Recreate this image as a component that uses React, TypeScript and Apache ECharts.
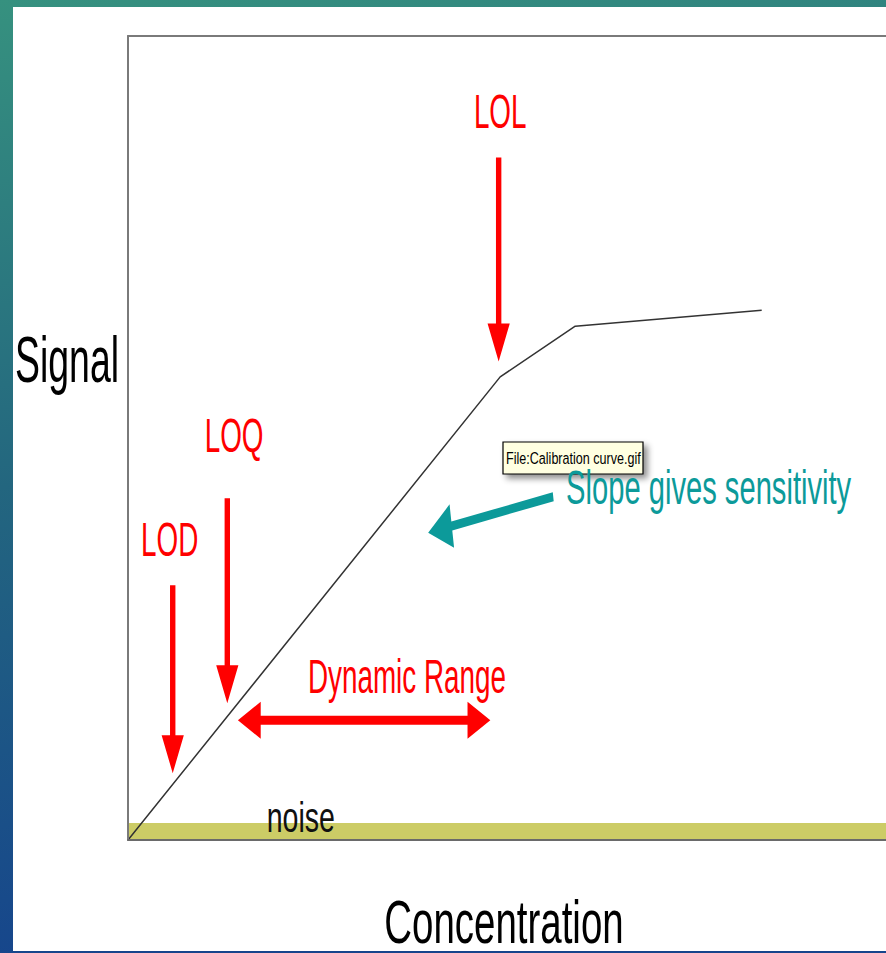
import React, { useEffect, useRef } from "react";
import * as echarts from "echarts";

// Calibration curve (concentration units 0..100, signal units 0..100)
const curveX = [0, 49.1, 59.0, 83.6];
const curveY = [0, 57.6, 63.9, 65.9];

// Noise band (signal range)
const noiseBand = [0, 2.1];

// Arrows: [x1, y1, x2(tip), y2(tip), doubleHeaded]
const redArrows = [
  [5.9, 31.7, 5.9, 8.3, 0], // LOD
  [13.1, 42.5, 13.1, 17.0, 0], // LOQ
  [48.9, 84.9, 48.9, 59.5, 0], // LOL
  [14.5, 14.9, 47.8, 14.9, 1], // Dynamic range
];
const tealArrows = [[56.1, 42.7, 39.6, 38.2, 0]]; // slope

// Labels: text, x, y
const redLabelText = ["LOL", "LOQ", "LOD", "Dynamic Range"];
const redLabelX = [49.1, 14.0, 5.5, 36.8];
const redLabelY = [90.7, 50.4, 37.4, 20.4];
const slopeLabel = ["Slope gives sensitivity", 57.8, 43.8];
const noiseLabel = ["noise", 18.3, 2.8];

const xTitle = "Concentration";
const yTitle = "Signal";
const fileTip = "File:Calibration curve.gif";

const SQUEEZE = 0.6;
const FONT = "'Liberation Sans', Arial, sans-serif";

function arrowRender(color: string, headLen: number, headW: number, shaftW: number) {
  return (params: any, api: any) => {
    const a = api.coord([api.value(0), api.value(1)]);
    const b = api.coord([api.value(2), api.value(3)]);
    const both = api.value(4) === 1;
    const ox = a[0];
    // un-squeezed space
    const A = [ox, a[1]];
    const B = [ox + (b[0] - ox) / SQUEEZE, b[1]];
    const dx = B[0] - A[0];
    const dy = B[1] - A[1];
    const L = Math.sqrt(dx * dx + dy * dy);
    const ux = dx / L, uy = dy / L;
    const px = -uy, py = ux;
    const pt = (t: number, s: number) => {
      const x = A[0] + ux * t + px * s;
      const y = A[1] + uy * t + py * s;
      return [ox + (x - ox) * SQUEEZE, y];
    };
    const t0 = both ? headLen : 0;
    const t1 = L - headLen;
    const pts: number[][] = [];
    if (both) {
      pts.push(pt(0, 0), pt(headLen, headW / 2), pt(headLen, shaftW / 2));
    } else {
      pts.push(pt(0, shaftW / 2));
    }
    pts.push(pt(t1, shaftW / 2), pt(t1, headW / 2), pt(L, 0), pt(t1, -headW / 2), pt(t1, -shaftW / 2));
    if (both) {
      pts.push(pt(t0, -shaftW / 2), pt(headLen, -headW / 2));
    } else {
      pts.push(pt(0, -shaftW / 2));
    }
    return { type: "polygon", shape: { points: pts }, style: { fill: color } };
  };
}

function labelRender(color: string, size: number, align: string, sx: number) {
  return (params: any, api: any) => {
    const p = api.coord([api.value(1), api.value(2)]);
    return {
      type: "text",
      x: p[0],
      y: p[1],
      scaleX: sx,
      style: {
        text: String(api.value(0)),
        fill: color,
        font: `${size}px ${FONT}`,
        textAlign: align,
        textVerticalAlign: "middle",
      },
    };
  };
}

const hiddenAxis = {
  axisTick: { show: false },
  axisLabel: { show: false },
  splitLine: { show: false },
};

export default function App() {
  const ref = useRef<HTMLDivElement>(null);
  useEffect(() => {
    const chart = echarts.init(ref.current!, null, { renderer: "svg" });
    chart.setOption({
      animation: false,
      backgroundColor: new echarts.graphic.LinearGradient(0, 0, 0.15, 1, [
        { offset: 0, color: "#36917f" },
        { offset: 0.5, color: "#23667f" },
        { offset: 1, color: "#16458c" },
      ]),
      grid: {
        left: 128,
        top: 36,
        right: 0,
        bottom: 953 - 840,
        show: false,
      },
      xAxis: [
        {
          type: "value",
          min: 0,
          max: 100,
          position: "bottom",
          axisLine: { show: true, onZero: false, lineStyle: { color: "#6a6a6a", width: 2 } },
          z: 8,
          ...hiddenAxis,
        },
        {
          type: "value",
          min: 0,
          max: 100,
          position: "top",
          axisLine: { show: true, onZero: false, lineStyle: { color: "#7a7a7a", width: 2 } },
          ...hiddenAxis,
        },
      ],
      yAxis: {
        type: "value",
        min: 0,
        max: 100,
        axisLine: { show: true, onZero: false, lineStyle: { color: "#7a7a7a", width: 2 } },
        z: 8,
        ...hiddenAxis,
      },
      graphic: [
        {
          type: "rect",
          z: -10,
          shape: { x: 13, y: 7, width: 873, height: 944 },
          style: { fill: "#ffffff" },
        },
        {
          type: "text",
          x: 15,
          y: 360,
          scaleX: 0.585,
          z: 10,
          style: { text: yTitle, fill: "#000", font: `64px ${FONT}`, textAlign: "left", textVerticalAlign: "middle" },
        },
        {
          type: "text",
          x: 504,
          y: 921,
          scaleX: 0.62,
          z: 10,
          style: { text: xTitle, fill: "#000", font: `62px ${FONT}`, textAlign: "center", textVerticalAlign: "middle" },
        },
        {
          type: "group",
          x: 503,
          y: 442,
          z: 20,
          children: [
            {
              type: "rect",
              shape: { x: 0, y: 0, width: 140, height: 32 },
              style: { fill: "#ffffe1", stroke: "#000", lineWidth: 1.2, shadowBlur: 6, shadowOffsetX: 4, shadowOffsetY: 4, shadowColor: "rgba(0,0,0,0.45)" },
            },
            {
              type: "text",
              x: 3,
              y: 16,
              scaleX: 0.74,
              style: { text: fileTip, fill: "#000", font: `17px ${FONT}`, textAlign: "left", textVerticalAlign: "middle" },
            },
          ],
        },
      ],
      series: [
        {
          type: "line",
          data: curveX.map((x, i) => [x, curveY[i]]),
          symbol: "none",
          lineStyle: { color: "#333333", width: 1.5 },
          z: 4,
          markArea: {
            silent: true,
            itemStyle: { color: "#cccc66" },
            data: [[{ yAxis: noiseBand[0] }, { yAxis: noiseBand[1] }]],
          },
        },
        {
          type: "custom",
          renderItem: arrowRender("#ff0000", 38, 37, 9),
          data: redArrows,
          z: 5,
        },
        {
          type: "custom",
          renderItem: arrowRender("#0c9a9a", 40, 44, 9),
          data: tealArrows,
          z: 5,
        },
        {
          type: "custom",
          renderItem: labelRender("#ff0000", 48, "center", 0.58),
          data: redLabelText.map((t, i) => [t, redLabelX[i], redLabelY[i]]),
          dimensions: ["text", "x", "y"],
          encode: { x: 1, y: 2 },
          z: 6,
        },
        {
          type: "custom",
          renderItem: labelRender("#0c9a9a", 49, "left", 0.595),
          data: [slopeLabel],
          dimensions: ["text", "x", "y"],
          encode: { x: 1, y: 2 },
          z: 6,
        },
        {
          type: "custom",
          renderItem: labelRender("#111111", 42, "left", 0.68),
          data: [noiseLabel],
          dimensions: ["text", "x", "y"],
          encode: { x: 1, y: 2 },
          z: 6,
        },
      ],
    });
    return () => chart.dispose();
  }, []);
  return <div ref={ref} style={{ position: "fixed", left: 0, top: 0, width: 886, height: 953 }} />;
}
